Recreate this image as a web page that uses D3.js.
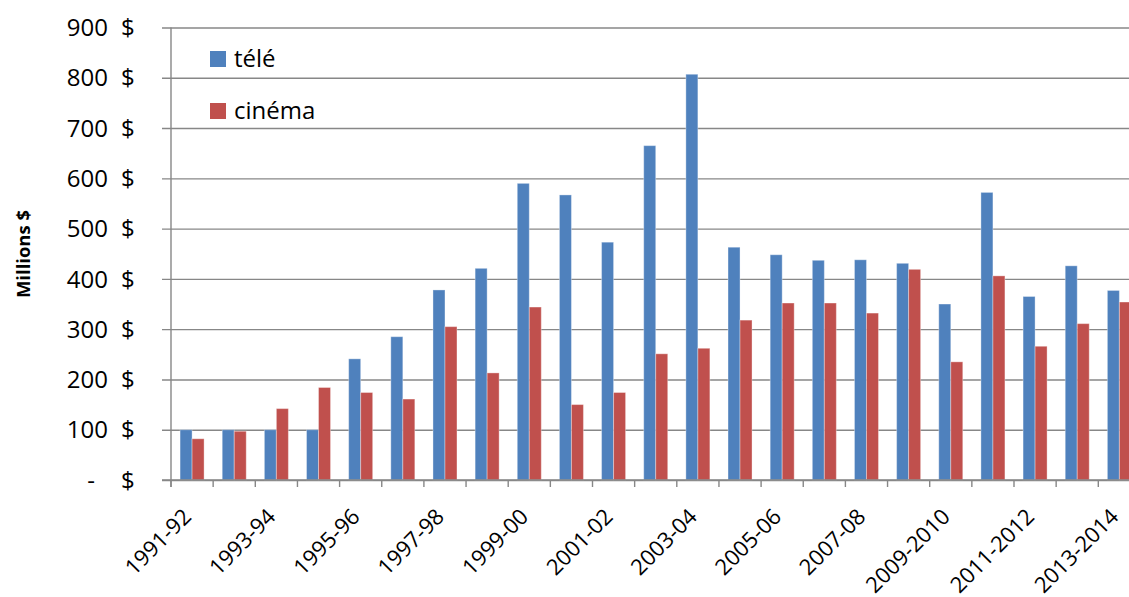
<!DOCTYPE html>
<html>
<head>
<meta charset="utf-8">
<script src="https://cdn.jsdelivr.net/npm/d3@7"></script>
<style>
  html, body { margin: 0; padding: 0; background: #fff; }
  svg { display: block; }
  text { font-family: "Open Sans", "Noto Sans", sans-serif; fill: #000; }
</style>
</head>
<body>
<svg id="chart" width="1129" height="597"></svg>
<script>
// Seasons (fiscal years)
const categories = [
  "1991-92", "1992-93", "1993-94", "1994-95", "1995-96", "1996-97",
  "1997-98", "1998-99", "1999-00", "2000-01", "2001-02", "2002-03",
  "2003-04", "2004-05", "2005-06", "2006-07", "2007-08", "2008-09",
  "2009-2010", "2010-2011", "2011-2012", "2012-2013", "2013-2014"
];

// Millions of dollars, television
const tele = [100, 100, 100, 100, 241, 285, 378, 421, 590, 567, 473, 665,
              807, 463, 448, 437, 438, 431, 350, 572, 365, 426, 377];

// Millions of dollars, cinema
const cinema = [82, 97, 142, 184, 174, 161, 305, 213, 344, 150, 174, 251,
                262, 318, 352, 352, 332, 419, 235, 406, 266, 311, 354];

const seriesNames = ["télé", "cinéma"];
const seriesColors = ["#4F81BD", "#C0504D"];
const yTicks = [0, 100, 200, 300, 400, 500, 600, 700, 800, 900];

const svg = d3.select("#chart");

const left = 171, step = 42.15;
const x = d3.scaleBand()
  .domain(categories)
  .range([left, left + step * categories.length])
  .paddingInner(0).paddingOuter(0);

const xSeries = d3.scaleBand()
  .domain(seriesNames)
  .range([0, x.bandwidth()])
  .paddingInner(0).paddingOuter(0.756);

const y = d3.scaleLinear().domain([0, 900]).range([480, 27.5]);

const gridColor = "#878787";

// horizontal gridlines + outside tick marks
const gy = svg.append("g").attr("transform", `translate(${left},0)`)
  .call(d3.axisLeft(y).tickValues(yTicks).tickSize(-(x.range()[1] - left)).tickFormat(""));
gy.select(".domain").remove();
gy.selectAll(".tick line").attr("x1", -9).attr("stroke", gridColor).attr("stroke-width", 1.4);

// y tick labels, accounting style
const yl = svg.append("g");
yTicks.forEach(v => {
  yl.append("text")
    .attr("x", v === 0 ? 91 : 108)
    .attr("y", y(v))
    .attr("dy", "0.36em")
    .attr("text-anchor", v === 0 ? "middle" : "end")
    .style("font-size", "24px")
    .text(v === 0 ? "-" : d3.format("d")(v));
  yl.append("text")
    .attr("x", 121)
    .attr("y", y(v))
    .attr("dy", "0.36em")
    .style("font-size", "24px")
    .text("$");
});

// bars
const data = categories.map((c, i) => ({ c, vals: [tele[i], cinema[i]] }));
const groups = svg.append("g").selectAll("g")
  .data(data).join("g")
  .attr("transform", d => `translate(${x(d.c)},0)`);
groups.selectAll("rect")
  .data(d => d.vals.map((v, k) => ({ v, k })))
  .join("rect")
  .attr("x", d => xSeries(seriesNames[d.k]))
  .attr("width", xSeries.bandwidth())
  .attr("y", d => y(d.v))
  .attr("height", d => y(0) - y(d.v))
  .attr("fill", d => seriesColors[d.k])
  .attr("stroke", "rgba(255,255,255,0.35)")
  .attr("stroke-width", 1);

// vertical axis line
svg.append("line")
  .attr("x1", left).attr("x2", left)
  .attr("y1", y(900)).attr("y2", 487)
  .attr("stroke", gridColor).attr("stroke-width", 1.4);

// category axis
const gx = svg.append("g").attr("transform", `translate(0,${y(0)})`)
  .call(d3.axisBottom(x).tickSize(0).tickFormat(""));
gx.select(".domain").attr("stroke", gridColor).attr("stroke-width", 1.4)
  .attr("d", `M${left - 9},0H${x.range()[1]}`);
gx.selectAll(".tick").remove();

const boundaries = categories.map(c => x(c)).concat([x.range()[1]]);
gx.selectAll("line.bound").data(boundaries).join("line")
  .attr("class", "bound")
  .attr("x1", d => d).attr("x2", d => d)
  .attr("y1", 0).attr("y2", 7)
  .attr("stroke", gridColor).attr("stroke-width", 1.4);

// rotated category labels, every other season
svg.append("g").selectAll("text")
  .data(categories.filter((c, i) => i % 2 === 0))
  .join("text")
  .attr("transform", d => `translate(${x(d) + x.bandwidth() / 2 + 0.5},518) rotate(-45)`)
  .attr("text-anchor", "end")
  .style("font-size", "22px")
  .text(d => d);

// y axis title
svg.append("text")
  .attr("transform", "translate(30,254) rotate(-90)")
  .attr("text-anchor", "middle")
  .style("font-size", "18.5px")
  .style("font-weight", "bold")
  .text("Millions $");

// legend
const legend = svg.append("g");
seriesNames.forEach((name, k) => {
  const ly = 51 + k * 52;
  legend.append("rect")
    .attr("x", 210).attr("y", ly).attr("width", 16).attr("height", 16)
    .attr("fill", seriesColors[k]);
  legend.append("text")
    .attr("x", 234).attr("y", ly + 16)
    .style("font-size", "24px")
    .text(name);
});
</script>
</body>
</html>
